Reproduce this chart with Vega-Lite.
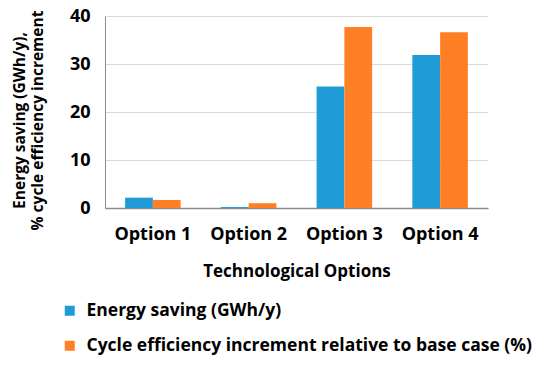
{
  "$schema": "https://vega.github.io/schema/vega-lite/v6.json",
  "width": 383,
  "height": 192,
  "autosize": {"type": "none"},
  "padding": {"left": 105, "top": 16, "right": 62, "bottom": 162},
  "background": "white",
  "data": {"values": [
    {"option": "Option 1", "series": "Energy saving (GWh/y)", "value": 2.15},
    {"option": "Option 1", "series": "Cycle efficiency increment relative to base case (%)", "value": 1.67},
    {"option": "Option 2", "series": "Energy saving (GWh/y)", "value": 0.2},
    {"option": "Option 2", "series": "Cycle efficiency increment relative to base case (%)", "value": 1.0},
    {"option": "Option 3", "series": "Energy saving (GWh/y)", "value": 25.3},
    {"option": "Option 3", "series": "Cycle efficiency increment relative to base case (%)", "value": 37.7},
    {"option": "Option 4", "series": "Energy saving (GWh/y)", "value": 31.9},
    {"option": "Option 4", "series": "Cycle efficiency increment relative to base case (%)", "value": 36.6}
  ]},
  "mark": {"type": "bar"},
  "encoding": {
    "x": {
      "field": "option", "type": "nominal",
      "scale": {"paddingInner": 0.42, "paddingOuter": 0.21},
      "axis": {
        "title": "Technological Options",
        "labelAngle": 0, "labelFont": "Open Sans", "labelFontWeight": "bold", "labelFontSize": 18, "labelColor": "black",
        "labelPadding": 17, "ticks": false,
        "titleFont": "Open Sans", "titleFontWeight": "bold", "titleFontSize": 17, "titleColor": "black", "titlePadding": 20,
        "domainColor": "#8c8c8c", "domainWidth": 1.5
      }
    },
    "xOffset": {"field": "series", "type": "nominal", "sort": ["Energy saving (GWh/y)", "Cycle efficiency increment relative to base case (%)"]},
    "y": {
      "field": "value", "type": "quantitative",
      "scale": {"domain": [0, 40]},
      "axis": {
        "values": [0, 10, 20, 30, 40],
        "title": ["Energy saving (GWh/y),", "% cycle efficiency increment"],
        "titleFont": "Open Sans", "titleFontWeight": "bold", "titleFontSize": 15.5, "titleColor": "black",
        "titleX": -86, "titleY": 104, "titleAngle": -90, "titleAlign": "center", "titleBaseline": "middle", "titleLineHeight": 18,
        "labelFont": "Open Sans", "labelFontWeight": "bold", "labelFontSize": 18, "labelColor": "black", "labelPadding": 15,
        "labelOverlap": false,
        "ticks": false, "domainColor": "#8c8c8c",
        "gridColor": "#d9d9d9"
      }
    },
    "color": {
      "field": "series", "type": "nominal",
      "sort": ["Energy saving (GWh/y)", "Cycle efficiency increment relative to base case (%)"],
      "scale": {"range": ["#1f9cd8", "#ff7f27"]},
      "legend": {
        "title": null, "orient": "none", "legendX": -44, "legendY": 286,
        "direction": "vertical", "symbolType": "square", "symbolSize": 100, "symbolStrokeWidth": 0,
        "labelFont": "Open Sans", "labelFontWeight": "bold", "labelFontSize": 17.5, "labelColor": "black",
        "rowPadding": 16, "labelLimit": 600, "labelOffset": 8
      }
    }
  },
  "config": {"view": {"stroke": null}}
}
